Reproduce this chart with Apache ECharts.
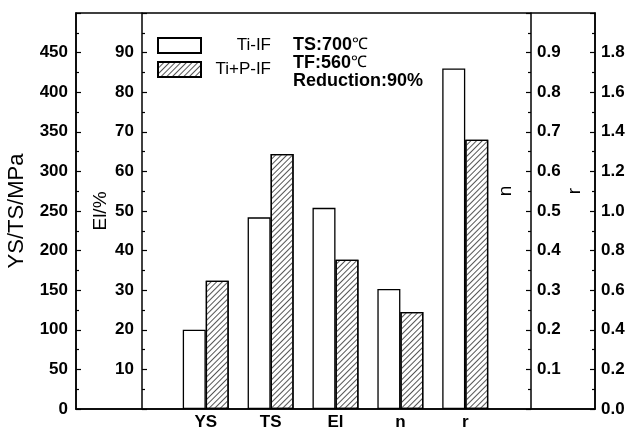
<!DOCTYPE html>
<html lang="en">
<head>
    <meta charset="UTF-8">
    <title>Ti-IF vs Ti+P-IF</title>
    <script src="https://cdn.jsdelivr.net/npm/echarts@6.0.0/dist/echarts.min.js"></script>
    <style>
        html, body {
            margin: 0;
            padding: 0;
            background: #fff;
        }
    </style>
</head>
<body>
<div id="main" style="width: 630px;height:432px;"></div>
<script type="text/javascript">
    // x positions: two empty slots each side so the axes line up with the frame
    var categories = ['', '', 'YS', 'TS', 'El', 'n', 'r', '', ''];
    var seriesNames = ['Ti-IF', 'Ti+P-IF'];

    // values, grouped by the y axis they belong to
    var strengthCats = ['YS', 'TS'];
    var strengthTiIF = [100, 242];
    var strengthTiPIF = [162, 322];

    var elongCats = ['El'];
    var elongTiIF = [50.8];
    var elongTiPIF = [37.7];

    var nCats = ['n'];
    var nTiIF = [0.303];
    var nTiPIF = [0.245];

    var rCats = ['r'];
    var rTiIF = [1.72];
    var rTiPIF = [1.36];

    var font = 'Liberation Sans';
    var myChart = echarts.init(document.getElementById('main'), null, {renderer: 'canvas'});

    function fillSlots(cats, values) {
        var out = categories.map(function () { return '-'; });
        cats.forEach(function (c, i) {
            out[categories.indexOf(c)] = values[i];
        });
        return out;
    }

    var hatch = {
        symbol: 'rect',
        symbolSize: 1,
        dashArrayX: [1, 0],
        dashArrayY: [1, 3],
        rotation: -Math.PI / 4,
        color: '#555'
    };

    var groups = [
        {axis: 0, cats: strengthCats, a: strengthTiIF, b: strengthTiPIF},
        {axis: 1, cats: elongCats, a: elongTiIF, b: elongTiPIF},
        {axis: 2, cats: nCats, a: nTiIF, b: nTiPIF},
        {axis: 3, cats: rCats, a: rTiIF, b: rTiPIF}
    ];

    var series = [];
    groups.forEach(function (g) {
        series.push({
            name: seriesNames[0],
            type: 'bar',
            stack: 'white',
            yAxisIndex: g.axis,
            barWidth: 23,
            barGap: '0%',
            itemStyle: {color: '#fff', borderColor: '#000', borderWidth: 1.3},
            emphasis: {disabled: true},
            data: fillSlots(g.cats, g.a)
        });
        series.push({
            name: seriesNames[1],
            type: 'bar',
            stack: 'hatched',
            yAxisIndex: g.axis,
            barWidth: 23,
            barGap: '0%',
            itemStyle: {color: '#fff', borderColor: '#000', borderWidth: 1.3, decal: hatch},
            emphasis: {disabled: true},
            data: fillSlots(g.cats, g.b)
        });
    });

    function valueAxis(opt) {
        var base = {
            type: 'value',
            splitLine: {show: false},
            axisLine: {show: true, lineStyle: {color: '#000', width: 1.5}},
            axisTick: {show: true, inside: true, length: 5, lineStyle: {color: '#000', width: 1.2}},
            minorTick: {show: true, splitNumber: 2, length: 3, lineStyle: {color: '#000', width: 1.2}},
            axisLabel: {
                color: '#000', fontFamily: font, fontWeight: 'bold', fontSize: 17, margin: 8
            },
            nameLocation: 'middle',
            nameRotate: 90,
            nameMoveOverlap: false,
            nameTextStyle: {color: '#000', fontFamily: font, fontSize: 19}
        };
        return echarts.util.merge(base, opt, true);
    }

    var option = {
        animation: false,
        grid: {
            left: 76,
            right: 35,
            top: 13,
            bottom: 23,
            show: true,
            borderColor: '#000',
            borderWidth: 1.5,
            outerBoundsMode: 'none'
        },
        legend: {
            orient: 'vertical',
            left: 152,
            top: 32,
            icon: 'rect',
            itemWidth: 43,
            itemHeight: 15,
            itemGap: 7,
            selectedMode: false,
            data: seriesNames,
            formatter: '{t|{name}}',
            textStyle: {
                color: '#000',
                fontFamily: font,
                fontSize: 17,
                rich: {t: {width: 65, align: 'right', fontSize: 17, fontFamily: font}}
            }
        },
        graphic: [{
            type: 'text',
            left: 293,
            top: 36,
            style: {
                text: '{b|TS:700}{c|℃}\n{b|TF:560}{c|℃}\n{b|Reduction:90%}',
                rich: {
                    b: {fontFamily: font, fontWeight: 'bold', fontSize: 18, lineHeight: 18, fill: '#000'},
                    c: {fontFamily: font, fontSize: 16, lineHeight: 18, fill: '#000'}
                }
            }
        }],
        xAxis: {
            type: 'category',
            data: categories,
            boundaryGap: false,
            axisLine: {lineStyle: {color: '#000', width: 1.5}},
            axisTick: {show: false},
            axisLabel: {
                interval: 0, color: '#000', fontFamily: font, fontWeight: 'bold', fontSize: 17, margin: 5
            }
        },
        yAxis: [
            valueAxis({
                position: 'left', min: 0, max: 500, interval: 50,
                axisLabel: {showMaxLabel: false},
                name: 'YS/TS/MPa', nameGap: 48,
                nameTextStyle: {fontSize: 22}
            }),
            valueAxis({
                position: 'left', offset: -66, min: 0, max: 100, interval: 10,
                axisLabel: {showMinLabel: false, showMaxLabel: false},
                name: 'El/%', nameGap: 32
            }),
            valueAxis({
                position: 'right', offset: -64, min: 0, max: 1, interval: 0.1,
                axisLabel: {
                    showMinLabel: false, showMaxLabel: false, margin: 6,
                    formatter: function (v) { return v.toFixed(1); }
                },
                name: 'n', nameGap: -35,
                nameTextStyle: {padding: [0, 0, 0, 40]}
            }),
            valueAxis({
                position: 'right', offset: 0, min: 0, max: 2, interval: 0.2,
                axisLabel: {
                    showMaxLabel: false, margin: 6,
                    formatter: function (v) { return v.toFixed(1); }
                },
                name: 'r', nameGap: -30,
                nameTextStyle: {padding: [0, 0, 0, 40]}
            })
        ],
        series: series
    };

    myChart.setOption(option);
</script>
</body>
</html>
